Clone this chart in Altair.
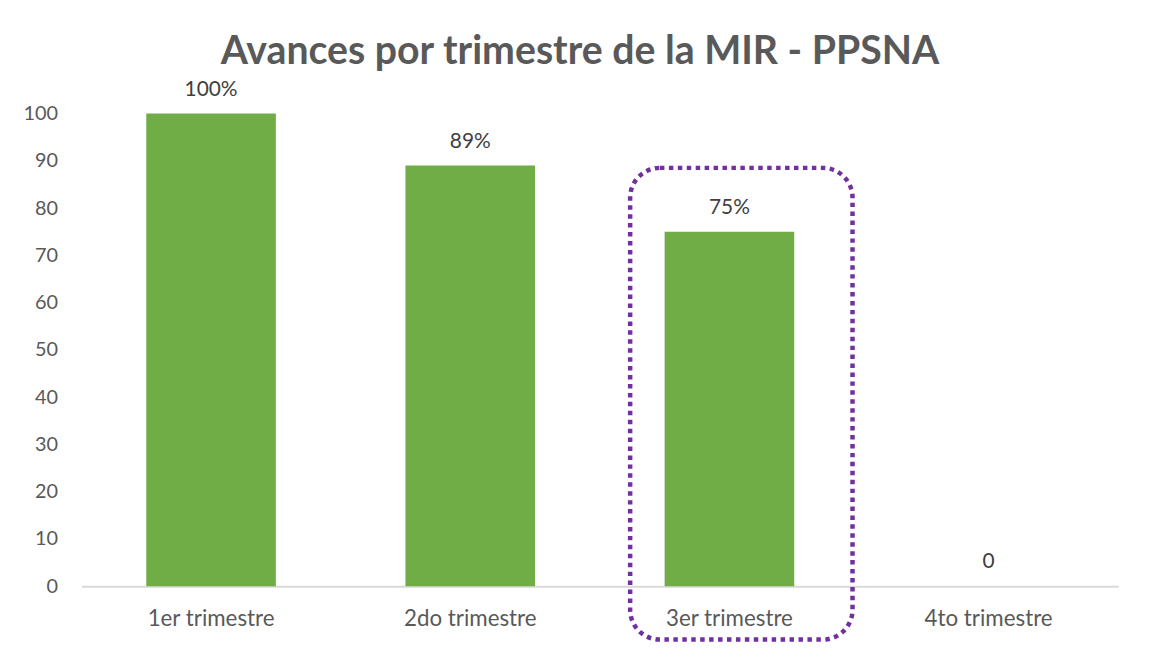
import altair as alt
import pandas as pd

categories = ["1er trimestre", "2do trimestre", "3er trimestre", "4to trimestre"]
values = [100, 89, 75, 0]
value_labels = ["100%", "89%", "75%", "0"]
highlight_category = ["3er trimestre"]

df = pd.DataFrame({"cat": categories, "val": values, "lab": value_labels})
hl = pd.DataFrame({"cat": highlight_category})

FONT = "Lato"
GRAY = "#595959"

x_enc = alt.X("cat:N", sort=categories, title=None,
              scale=alt.Scale(paddingInner=0, paddingOuter=0),
              axis=alt.Axis(labelAngle=0, labelFontSize=22.5, labelColor=GRAY, labelFont=FONT,
                            labelPadding=22, ticks=False, domainColor="#D9D9D9", domainWidth=2,
                            grid=False))
y_scale = alt.Scale(domain=[0, 100], nice=False, zero=True)

bars = alt.Chart(df).mark_bar(color="#70AD47", width=alt.RelativeBandSize(0.5)).encode(
    x=x_enc,
    y=alt.Y("val:Q", scale=y_scale, title=None,
            axis=alt.Axis(values=list(range(0, 101, 10)), labelFontSize=20, labelColor=GRAY,
                          labelFont=FONT, labelPadding=24, ticks=False, domain=False, grid=False)),
)

labels = alt.Chart(df).mark_text(baseline="alphabetic", dy=-18, fontSize=21, font=FONT,
                                 color="#404040").encode(
    x=alt.X("cat:N", sort=categories),
    y=alt.Y("val:Q", scale=y_scale),
    text="lab:N",
)

box = alt.Chart(hl).mark_bar(fillOpacity=0, fill="white", stroke="#7030A0", strokeWidth=4.5,
                             strokeDash=[4.5, 4.5], cornerRadius=30, clip=False,
                             width=alt.RelativeBandSize(0.858), xOffset=12).encode(
    x=alt.X("cat:N", sort=categories),
    y=alt.datum(88.5, scale=y_scale),
    y2=alt.datum(-11.3),
)

chart = alt.layer(bars, labels, box).properties(
    width=1044, height=476,
    autosize=alt.AutoSizeParams(type="none"),
    padding={"left": 74, "top": 104, "right": 27, "bottom": 61},
    title=alt.TitleParams("Avances por trimestre de la MIR - PPSNA", font=FONT, fontSize=39.5,
                          fontWeight="bold", color=GRAY, anchor="middle", baseline="alphabetic",
                          offset=42, dx=-20, dy=67),
    background="white",
).configure_view(stroke=None)

chart.save("out.html", embed_options={"renderer": "svg", "actions": False})
